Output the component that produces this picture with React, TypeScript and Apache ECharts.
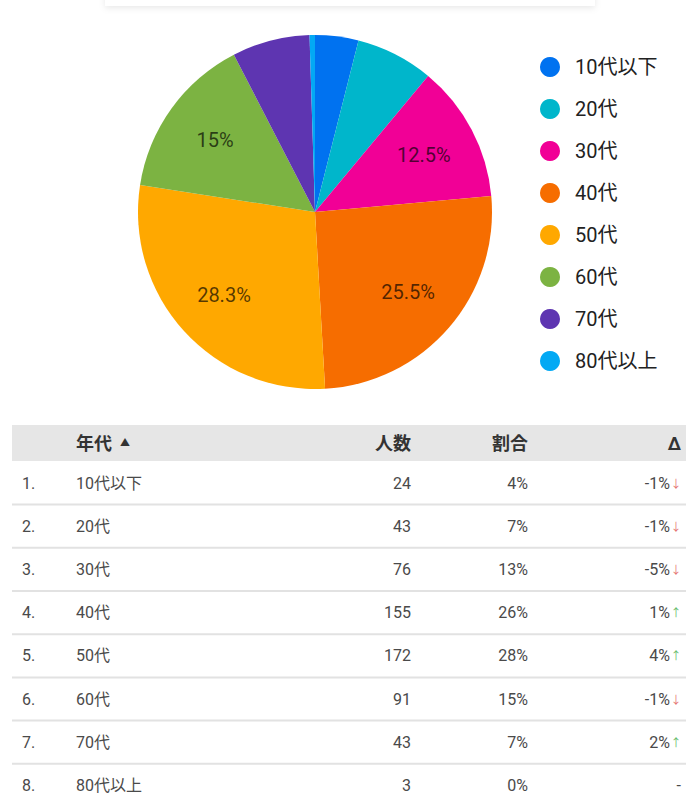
import React, { useEffect, useRef } from "react";
import * as echarts from "echarts";

const ages = ["10代以下", "20代", "30代", "40代", "50代", "60代", "70代", "80代以上"];
const counts = [24, 43, 76, 155, 172, 91, 43, 3];
const deltas = ["-1%", "-1%", "-5%", "1%", "4%", "-1%", "2%", "-"];
const colors = ["#0072f0", "#00b6cb", "#f10096", "#f66d00", "#ffa800", "#7cb342", "#5e35b1", "#03a9f4"];
const headers = ["年代", "人数", "割合", "Δ"];

const FONT = 'Roboto, "Noto Sans CJK JP", sans-serif';

export default function App() {
  const ref = useRef<HTMLDivElement>(null);
  useEffect(() => {
    if (!ref.current) return;
    const chart = echarts.init(ref.current, undefined, { renderer: "svg" });
    const total = counts.reduce((a, b) => a + b, 0);
    const pieData = ages.map((n, i) => ({ name: n, value: counts[i] }));

    const g: any[] = [];
    // faint card shadow at top
    g.push({
      type: "rect",
      shape: { x: 105, y: -30, width: 490, height: 36 },
      style: { fill: "#fff", shadowBlur: 6, shadowOffsetY: 2, shadowColor: "rgba(0,0,0,0.09)" },
      z: 1,
    });
    // header background
    const headTop = 425;
    const headH = 36;
    g.push({ type: "rect", shape: { x: 12, y: headTop, width: 674, height: headH }, style: { fill: "#e6e6e6" } });
    const hy = headTop + headH / 2;
    const hStyle = { font: `bold 18px ${FONT}`, fill: "#333", verticalAlign: "middle" };
    g.push({ type: "text", x: 76, y: hy, style: { ...hStyle, text: headers[0], align: "left" } });
    g.push({ type: "text", x: 120, y: hy - 1, style: { font: `10px ${FONT}`, fill: "#333", text: "▲", align: "left", verticalAlign: "middle" } });
    g.push({ type: "text", x: 411, y: hy, style: { ...hStyle, text: headers[1], align: "right" } });
    g.push({ type: "text", x: 528, y: hy, style: { ...hStyle, text: headers[2], align: "right" } });
    g.push({ type: "text", x: 681, y: hy, style: { ...hStyle, text: headers[3], align: "right" } });

    const row0 = 483;
    const rowH = 43.2;
    const rStyle = { font: `16px ${FONT}`, fill: "#4a4a4a", verticalAlign: "middle" };
    ages.forEach((a, i) => {
      const y = row0 + i * rowH;
      g.push({ type: "text", x: 22, y, style: { ...rStyle, text: `${i + 1}.`, align: "left" } });
      g.push({ type: "text", x: 76, y, style: { ...rStyle, text: a, align: "left" } });
      g.push({ type: "text", x: 411, y, style: { ...rStyle, text: String(counts[i]), align: "right" } });
      g.push({ type: "text", x: 528, y, style: { ...rStyle, text: `${Math.round((counts[i] / total) * 100)}%`, align: "right" } });
      const d = deltas[i];
      if (d === "-") {
        g.push({ type: "text", x: 681, y, style: { ...rStyle, text: d, align: "right" } });
      } else {
        const neg = d.startsWith("-");
        g.push({ type: "text", x: 670, y, style: { ...rStyle, text: d, align: "right" } });
        g.push({
          type: "text",
          x: 676,
          y: y + 1,
          style: { font: `11px ${FONT}`, fill: neg ? "#e57373" : "#66bb6a", text: neg ? "↓" : "↑", align: "center", verticalAlign: "middle" },
        });
      }
      if (i < ages.length - 1) {
        g.push({
          type: "rect",
          shape: { x: 12, y: y + rowH / 2 - 1, width: 674, height: 2 },
          style: { fill: "#e2e2e2" },
        });
      }
    });

    chart.setOption({
      animation: false,
      backgroundColor: "#fff",
      color: colors,
      legend: {
        orient: "vertical",
        left: 535,
        top: 52,
        icon: "circle",
        itemWidth: 20,
        itemHeight: 20,
        itemGap: 22,
        data: ages.map((n, i) => ({ name: n, itemStyle: { color: colors[i] } })),
        textStyle: { fontSize: 20, color: "#222", fontFamily: FONT, padding: [0, 0, 0, 10], lineHeight: 20 },
      },
      series: [
        {
          type: "pie",
          center: [315, 212],
          radius: [0, 177],
          startAngle: 90,
          data: pieData,
          label: { show: false },
          labelLine: { show: false },
          itemStyle: { borderWidth: 0 },
          emphasis: { disabled: true },
        },
        {
          type: "pie",
          center: [315, 212],
          radius: [63, 177],
          startAngle: 90,
          silent: true,
          percentPrecision: 1,
          data: pieData,
          itemStyle: { color: "rgba(0,0,0,0)", borderWidth: 0 },
          labelLine: { show: false },
          label: {
            show: true,
            position: "inside",
            fontSize: 20,
            fontFamily: FONT,
            color: "rgba(0,0,0,0.68)",
            formatter: (p: any) => (p.percent >= 10 ? `${+Number(p.percent).toFixed(1)}%` : ""),
          },
          emphasis: { disabled: true },
        },
      ],
      graphic: g,
    });
    return () => chart.dispose();
  }, []);
  return <div ref={ref} style={{ position: "fixed", left: 0, top: 0, width: 686, height: 811 }} />;
}
